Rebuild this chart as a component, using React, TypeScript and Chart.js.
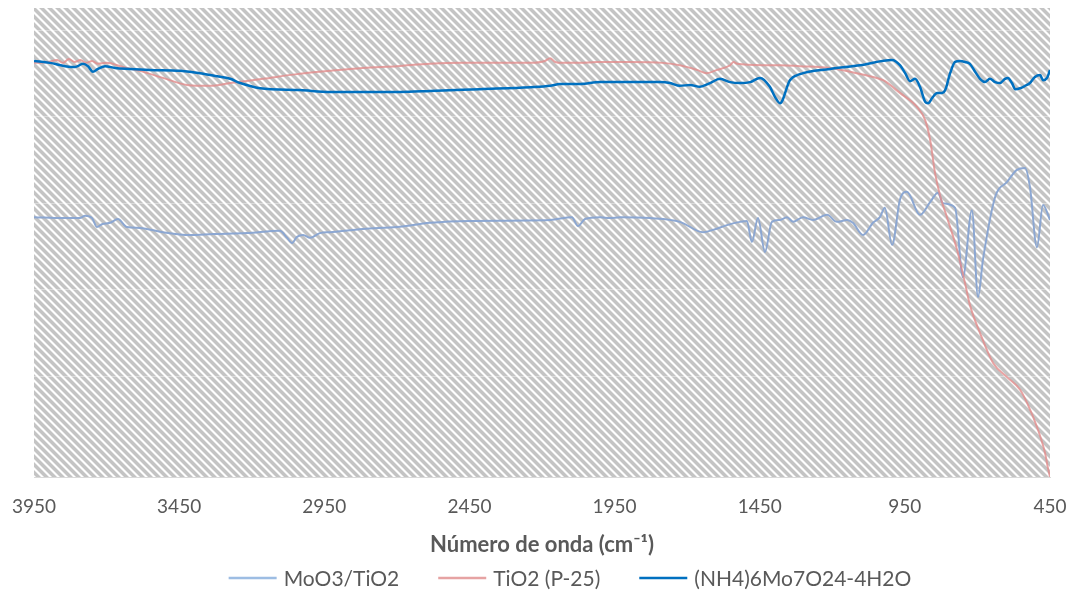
import { useEffect, useRef } from "react";
import { Chart, registerables } from "chart.js";

Chart.register(...registerables);

// Axis ticks (wavenumber, cm-1) and horizontal grid levels (arbitrary transmittance units)
const xTicks = [3950, 3450, 2950, 2450, 1950, 1450, 950, 450];
const gridLevels = [21.5, 39.9, 58.4, 76.8, 95.1];

const seriesNames = ["MoO3/TiO2", "TiO2 (P-25)", "(NH4)6Mo7O24-4H2O"];

// MoO3/TiO2 spectrum
const moo3Wavenumber = [
  3950, 3850, 3792, 3774, 3750, 3733, 3716, 3688, 3661, 3630, 3585, 3506, 3413, 3333, 3216, 3103,
  3078, 3061, 3044, 3023, 2999, 2965, 2930, 2817, 2699, 2586, 2448, 2172, 2097, 2076, 2052, 2000,
  1966, 1931, 1828, 1725, 1645, 1611, 1563, 1518, 1494, 1477, 1456, 1432, 1408, 1380, 1356, 1335,
  1301, 1266, 1218, 1184, 1149, 1129, 1094, 1060, 1036, 1019, 994, 967, 943, 898, 863, 836, 819,
  777, 750, 719, 698, 681, 639, 598, 564, 536, 519, 495, 474, 450,
];
const moo3Transmittance = [
  55.4, 55.2, 55.2, 55.7, 55.2, 53.3, 53.9, 54.2, 55.0, 53.3, 53.1, 52.2, 51.6, 51.8, 52.0, 52.5,
  51.0, 49.9, 51.2, 51.6, 51.0, 52.0, 52.2, 52.9, 53.3, 54.2, 54.6, 54.8, 55.4, 53.5, 55.0, 55.4,
  55.2, 55.4, 55.2, 54.4, 52.2, 52.7, 53.7, 54.4, 54.6, 50.1, 55.2, 48.0, 54.4, 54.8, 55.4, 54.4,
  55.4, 54.8, 55.9, 54.4, 54.8, 54.2, 51.6, 54.2, 55.4, 57.4, 49.5, 59.1, 60.8, 55.9, 58.6, 60.6, 58.4,
  57.4, 42.6, 56.9, 38.4, 46.3, 59.7, 62.9, 65.5, 65.9, 61.8, 49.0, 58.0, 54.8,
];

// TiO2 (P-25) spectrum
const tio2Wavenumber = [
  3950, 3900, 3870, 3850, 3830, 3810, 3790, 3770, 3750, 3730, 3700, 3643, 3585, 3506, 3423, 3344,
  3274, 3161, 3044, 2930, 2817, 2699, 2586, 2472, 2355, 2241, 2190, 2172, 2155, 2128, 2069, 2010,
  1897, 1783, 1725, 1666, 1632, 1597, 1552, 1540, 1528, 1439, 1380, 1311, 1208, 1139, 1087, 1025,
  967, 908, 880, 863, 846, 829, 805, 770, 743, 726, 691, 646, 598, 553, 529, 495, 467, 457, 450,
];
const tio2Transmittance = [
  88.3, 88.5, 88.9, 88.3, 89.1, 88.5, 88.9, 88.3, 88.7, 88.1, 88.3, 87.4, 86.6, 85.1, 83.6, 83.4,
  84.0, 84.9, 85.9, 86.6, 87.2, 87.6, 88.1, 88.3, 88.3, 88.3, 88.7, 89.3, 88.5, 88.3, 88.3, 88.5,
  88.5, 88.3, 87.8, 86.8, 86.1, 86.8, 87.8, 88.5, 88.1, 87.8, 87.8, 87.6, 87.2, 86.4, 85.7, 84.6,
  81.9, 78.9, 76.1, 71.9, 64.8, 60.1, 55.4, 48.4, 41.4, 36.7, 30.7, 24.3, 21.3, 18.6, 15.8, 10.7, 5.1, 1.9, 0,
];

// (NH4)6Mo7O24-4H2O spectrum
const ammoniumWavenumber = [
  3950, 3895, 3843, 3809, 3781, 3764, 3747, 3730, 3705, 3671, 3619, 3550, 3447, 3378, 3326, 3274,
  3240, 3171, 3034, 2930, 2827, 2689, 2586, 2414, 2241, 2172, 2138, 2069, 2000, 1862, 1793, 1759,
  1725, 1690, 1656, 1621, 1587, 1552, 1518, 1483, 1449, 1415, 1397, 1380, 1346, 1311, 1208, 1104,
  994, 967, 949, 932, 915, 898, 880, 870, 856, 839, 822, 811, 794, 777, 760, 743, 726, 708, 691,
  674, 657, 639, 622, 605, 595, 581, 570, 553, 536, 519, 502, 484, 474, 460, 450,
];
const ammoniumTransmittance = [
  88.7, 88.3, 87.6, 87.4, 88.1, 87.6, 86.4, 87.0, 87.6, 87.2, 87.0, 86.8, 86.6, 86.1, 85.5, 84.9,
  84.0, 82.9, 82.5, 82.1, 82.1, 82.1, 82.3, 82.7, 83.1, 83.4, 83.8, 83.8, 84.2, 84.2, 84.2, 84.0,
  83.4, 83.6, 83.2, 84.0, 84.9, 84.2, 84.0, 84.2, 85.1, 83.2, 81.0, 79.7, 84.6, 85.9, 87.0, 87.8,
  88.9, 87.8, 86.1, 84.4, 84.9, 83.2, 80.0, 79.7, 80.8, 81.9, 81.9, 82.5, 86.1, 88.5, 88.7, 88.5, 88.1, 86.4, 84.9,
  84.2, 84.9, 84.2, 84.0, 84.9, 85.1, 84.0, 82.7, 82.9, 83.4, 84.0, 85.3, 85.7, 84.6, 85.1, 86.8,
];

const FONT = "Lato, 'Open Sans', sans-serif";
const TEXT_COLOR = "#595959";

function toPoints(xs: number[], ys: number[]) {
  return xs.map((x, i) => ({ x, y: ys[i] }));
}

// Diagonal gray/white hatch used as the plot-area fill
function makeHatch(ctx: CanvasRenderingContext2D) {
  const size = 8;
  const tile = document.createElement("canvas");
  tile.width = size;
  tile.height = size;
  const g = tile.getContext("2d")!;
  const img = g.createImageData(size, size);
  for (let y = 0; y < size; y++) {
    for (let x = 0; x < size; x++) {
      const d = (((x - y) % size) + size) % size;
      const v = d < 4 ? 196 : d === 4 || d === 7 ? 226 : 255;
      const k = (y * size + x) * 4;
      img.data[k] = v;
      img.data[k + 1] = v;
      img.data[k + 2] = v;
      img.data[k + 3] = 255;
    }
  }
  g.putImageData(img, 0, 0);
  return ctx.createPattern(tile, "repeat");
}

const hatchPlugin = {
  id: "hatchBackground",
  beforeDraw(chart: any) {
    const { ctx, chartArea } = chart;
    if (!chartArea) return;
    ctx.save();
    ctx.fillStyle = makeHatch(ctx);
    ctx.fillRect(chartArea.left, chartArea.top, chartArea.right - chartArea.left, chartArea.bottom - chartArea.top);
    ctx.restore();
  },
};

// Line-sample legend centred under the axis title
const lineLegendPlugin = {
  id: "lineLegend",
  afterDraw(chart: any) {
    const ctx: CanvasRenderingContext2D = chart.ctx;
    const datasets = chart.data.datasets;
    ctx.save();
    ctx.font = `21px ${FONT}`;
    const sample = 48;
    const gap = 7;
    const between = 39;
    const widths = datasets.map((ds: any) => ctx.measureText(ds.label).width);
    const total =
      widths.reduce((s: number, w: number) => s + sample + gap + w, 0) + between * (datasets.length - 1);
    let x = 570 - total / 2;
    const y = 578;
    datasets.forEach((ds: any, i: number) => {
      ctx.strokeStyle = ds.legendColor;
      ctx.lineWidth = 2.5;
      ctx.beginPath();
      ctx.moveTo(x, y);
      ctx.lineTo(x + sample, y);
      ctx.stroke();
      ctx.fillStyle = TEXT_COLOR;
      ctx.textBaseline = "middle";
      ctx.textAlign = "left";
      ctx.fillText(ds.label, x + sample + gap, y + 1);
      x += sample + gap + widths[i] + between;
    });
    ctx.restore();
  },
};

export default function App() {
  const canvasRef = useRef<HTMLCanvasElement | null>(null);

  useEffect(() => {
    const canvas = canvasRef.current;
    if (!canvas) return;
    const chart = new Chart(canvas, {
      type: "line",
      data: {
        datasets: [
          {
            label: seriesNames[0],
            data: toPoints(moo3Wavenumber, moo3Transmittance),
            borderColor: "rgba(136, 164, 210, 0.95)",
            legendColor: "#9DBDE3",
            borderWidth: 2,
            order: 2,
          } as any,
          {
            label: seriesNames[1],
            data: toPoints(tio2Wavenumber, tio2Transmittance),
            borderColor: "rgba(226, 140, 140, 0.8)",
            legendColor: "#E6A3A3",
            borderWidth: 2,
            order: 1,
          } as any,
          {
            label: seriesNames[2],
            data: toPoints(ammoniumWavenumber, ammoniumTransmittance),
            borderColor: "#0070C0",
            legendColor: "#0070C0",
            borderWidth: 2.5,
            order: 0,
          } as any,
        ],
      },
      options: {
        animation: false,
        responsive: false,
        devicePixelRatio: 1,
        parsing: false,
        elements: {
          point: { radius: 0, hoverRadius: 0 },
          line: { cubicInterpolationMode: "monotone", fill: false },
        },
        layout: { padding: { left: 34, right: 23, top: 8, bottom: 35 } },
        plugins: {
          legend: { display: false },
          tooltip: { enabled: false },
        },
        scales: {
          x: {
            type: "linear",
            reverse: true,
            min: 450,
            max: 3950,
            afterBuildTicks: (scale: any) => {
              scale.ticks = xTicks.map((v) => ({ value: v }));
            },
            afterFit: (scale: any) => {
              scale.paddingLeft = 0;
              scale.paddingRight = 0;
              scale.height = 83;
            },
            grid: { display: false, drawTicks: false },
            border: { display: true, color: "#D9D9D9", width: 1 },
            ticks: {
              padding: 18,
              color: TEXT_COLOR,
              font: { family: FONT, size: 19 },
              maxRotation: 0,
              autoSkip: false,
              callback: (v: any) => String(v),
            },
            title: {
              display: true,
              text: "Número de onda (cm⁻¹)",
              color: TEXT_COLOR,
              font: { family: FONT, size: 22, weight: "bold" },
              padding: { top: 10, bottom: 2 },
            },
          },
          y: {
            type: "linear",
            min: 0,
            max: 100,
            afterBuildTicks: (scale: any) => {
              scale.ticks = gridLevels.map((v) => ({ value: v }));
            },
            afterFit: (scale: any) => {
              scale.paddingTop = 0;
              scale.paddingBottom = 0;
              scale.width = 0;
            },
            ticks: { display: false },
            border: { display: false },
            grid: { color: "rgba(255,255,255,0.4)", lineWidth: 1, drawTicks: false },
          },
        },
      },
      plugins: [hatchPlugin, lineLegendPlugin],
    } as any);
    return () => chart.destroy();
  }, []);

  return (
    <div style={{ position: "absolute", left: 0, top: 0, width: 1073, height: 595, background: "#fff" }}>
      <canvas ref={canvasRef} width={1073} height={595} style={{ display: "block" }} />
    </div>
  );
}
